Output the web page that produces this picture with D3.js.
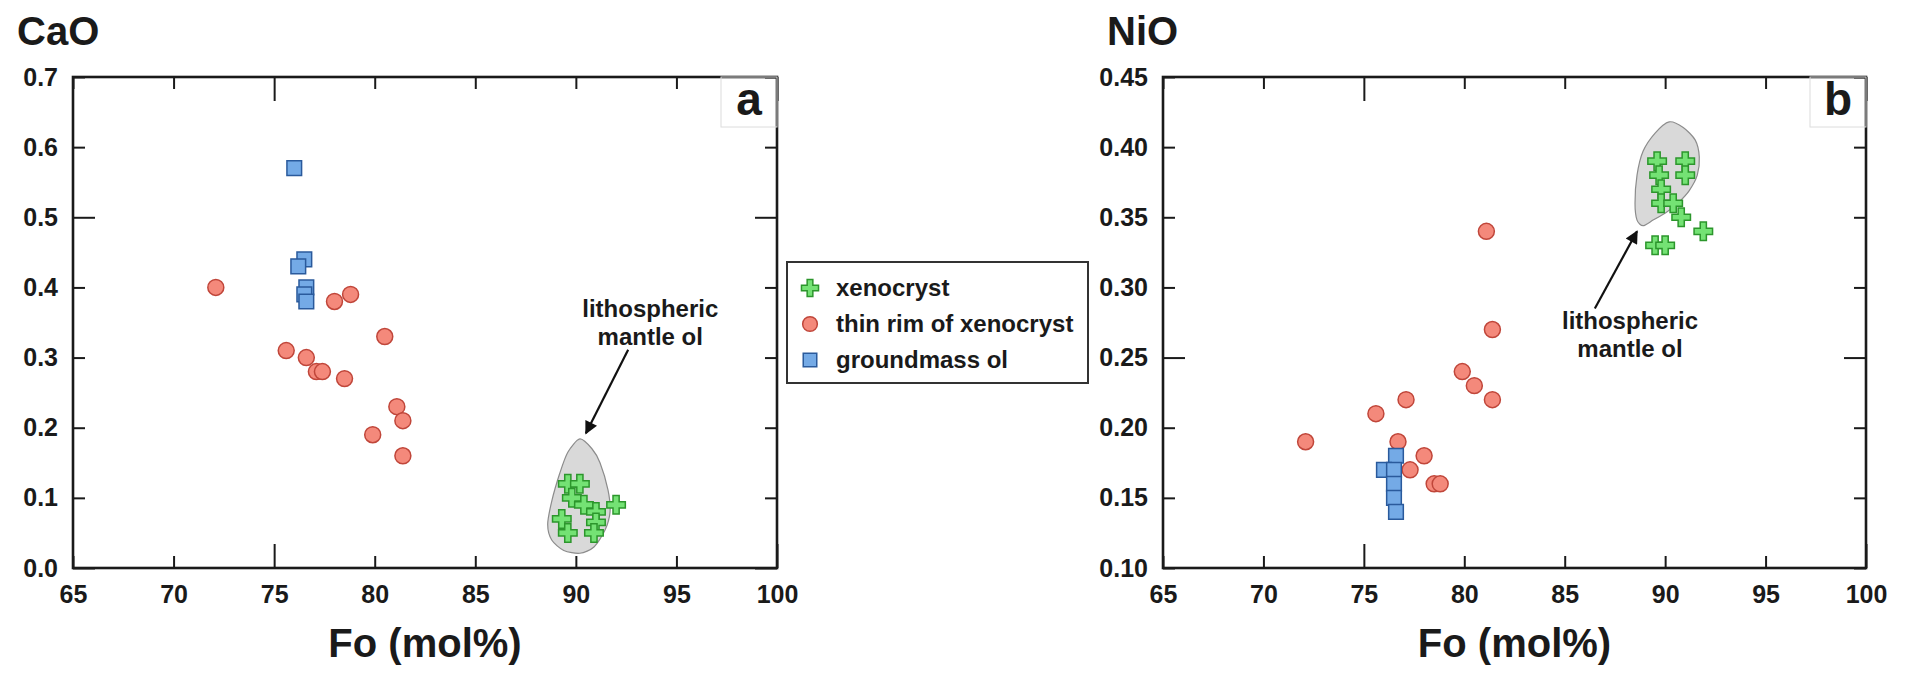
<!DOCTYPE html>
<html>
<head>
<meta charset="utf-8">
<script src="https://cdn.jsdelivr.net/npm/d3@7"></script>
<style>
body{margin:0;background:#fff;}
svg text{font-family:"Liberation Sans",Arial,Helvetica,sans-serif;font-weight:bold;fill:#1a1a1a;}
</style>
</head>
<body>
<div id="chart"></div>
<script>
// tick values
var foTicks = [65,70,75,80,85,90,95,100];
var caoTicks = [0.0,0.1,0.2,0.3,0.4,0.5,0.6,0.7];
var nioTicks = [0.10,0.15,0.20,0.25,0.30,0.35,0.40,0.45];

// legend
var seriesNames = ["xenocryst","thin rim of xenocryst","groundmass ol"];

// panel a: CaO vs Fo  ([Fo, CaO])
var xenoCaO = [[89.6,0.12],[90.2,0.12],[89.8,0.10],[90.4,0.09],[91.0,0.08],[89.3,0.07],[91.0,0.065],[89.6,0.05],[90.9,0.05],[92.0,0.09]];
var rimCaO = [[72.1,0.40],[78.0,0.38],[78.8,0.39],[80.5,0.33],[75.6,0.31],[76.6,0.30],[77.1,0.28],[77.4,0.28],[78.5,0.27],[81.1,0.23],[81.4,0.21],[79.9,0.19],[81.4,0.16]];
var gmCaO = [[76.0,0.57],[76.5,0.44],[76.2,0.43],[76.6,0.40],[76.5,0.39],[76.6,0.38]];
// lithospheric mantle ol field (outline)
var fieldCaO = [[90.2,0.184],[90.8,0.170],[91.2,0.150],[91.6,0.111],[91.7,0.080],[91.45,0.054],[90.9,0.030],[90.2,0.021],[89.4,0.025],[88.8,0.040],[88.6,0.062],[88.8,0.095],[89.2,0.135],[89.6,0.165]];

// panel b: NiO vs Fo  ([Fo, NiO])
var xenoNiO = [[89.6,0.39],[91.0,0.39],[89.7,0.38],[91.0,0.38],[89.8,0.37],[89.8,0.36],[90.4,0.36],[90.8,0.35],[91.9,0.34],[89.5,0.33],[90.0,0.33]];
var rimNiO = [[81.1,0.34],[81.4,0.27],[79.9,0.24],[80.5,0.23],[81.4,0.22],[77.1,0.22],[75.6,0.21],[72.1,0.19],[76.7,0.19],[78.0,0.18],[77.3,0.17],[78.5,0.16],[78.8,0.16]];
var gmNiO = [[76.6,0.18],[76.0,0.17],[76.5,0.17],[76.5,0.16],[76.5,0.15],[76.6,0.14]];
var fieldNiO = [[90.2,0.418],[90.9,0.414],[91.5,0.405],[91.7,0.393],[91.6,0.380],[91.2,0.369],[90.7,0.361],[90.1,0.354],[89.4,0.348],[88.9,0.344],[88.6,0.348],[88.5,0.360],[88.6,0.380],[88.9,0.397],[89.5,0.410]];

var W = 1912, H = 678;
var svg = d3.select("#chart").append("svg")
    .attr("width", W)
    .attr("height", H);

var defs = svg.append("defs");
defs.append("marker")
    .attr("id","arrowhead")
    .attr("viewBox","0 0 10 10")
    .attr("refX",9).attr("refY",5)
    .attr("markerWidth",18).attr("markerHeight",13)
    .attr("markerUnits","userSpaceOnUse")
    .attr("orient","auto")
    .append("path").attr("d","M0,0 L10,5 L0,10 z").attr("fill","#111");

// marker styles
var styles = [
    {type: d3.symbolCross, size: 190, fill: "#74e274", stroke: "#2c962c"},
    {type: d3.symbolCircle, size: 200, fill: "#f4897b", stroke: "#c0463a"},
    {type: d3.symbolSquare, size: 215, fill: "#74aae6", stroke: "#2a5a9c"}
];

function drawPanel(p){
    var x = d3.scaleLinear().domain([65,100]).range([p.left, p.right]);
    var y = d3.scaleLinear().domain(p.yDomain).range([p.bottom, p.top]);
    var g = svg.append("g");

    //shaded mantle field
    g.append("path")
        .datum(p.field)
        .attr("d", d3.line().x(function(d){return x(d[0]);}).y(function(d){return y(d[1]);}).curve(d3.curveCardinalClosed.tension(0.2)))
        .attr("fill","#d9d9d9")
        .attr("stroke","#8c8c8c")
        .attr("stroke-width",1.2);

    //axes with inward ticks, long ticks on the majors
    var bottom = g.append("g").attr("transform","translate(0,"+p.bottom+")")
        .call(d3.axisBottom(x).tickValues(foTicks).tickSizeOuter(0).tickSizeInner(-12).tickPadding(17));
    bottom.selectAll(".tick line").attr("y2", function(d){ return d % 25 === 0 ? -24 : -12; });
    var top = g.append("g").attr("transform","translate(0,"+p.top+")")
        .call(d3.axisTop(x).tickValues(foTicks).tickSizeOuter(0).tickSizeInner(-12).tickFormat(""));
    top.selectAll(".tick line").attr("y2", function(d){ return d % 25 === 0 ? 24 : 12; });

    var left = g.append("g").attr("transform","translate("+p.left+",0)")
        .call(d3.axisLeft(y).tickValues(p.yTicks).tickSizeOuter(0).tickSizeInner(-12).tickPadding(15).tickFormat(d3.format(p.fmt)));
    left.selectAll(".tick line").attr("x2", function(d){ return p.isMajor(d) ? 22 : 12; });
    var right = g.append("g").attr("transform","translate("+p.right+",0)")
        .call(d3.axisRight(y).tickValues(p.yTicks).tickSizeOuter(0).tickSizeInner(-12).tickFormat(""));
    right.selectAll(".tick line").attr("x2", function(d){ return p.isMajor(d) ? -22 : -12; });

    [bottom, top, left, right].forEach(function(a){
        a.select(".domain").remove();
        a.selectAll(".tick line").attr("stroke","#1a1a1a").attr("stroke-width",2);
        a.selectAll("text").attr("font-size",25).attr("font-family",null).attr("fill","#1a1a1a");
    });

    //frame
    g.append("rect")
        .attr("x",p.left).attr("y",p.top)
        .attr("width",p.right-p.left).attr("height",p.bottom-p.top)
        .attr("fill","none").attr("stroke","#1a1a1a").attr("stroke-width",2.6);

    //panel letter box
    g.append("rect")
        .attr("x",p.right-56).attr("y",p.top)
        .attr("width",56).attr("height",50)
        .attr("fill","none").attr("stroke","#dcdcdc").attr("stroke-width",1);
    g.append("text").attr("x",p.right-28).attr("y",p.top+38)
        .attr("text-anchor","middle").attr("font-size",46).text(p.letter);

    //data points
    [p.xeno, p.rim, p.gm].forEach(function(set, i){
        var s = styles[i];
        g.selectAll(null).data(set).enter().append("path")
            .attr("d", d3.symbol().type(s.type).size(s.size))
            .attr("transform", function(d){ return "translate("+x(d[0])+","+y(d[1])+")"; })
            .attr("fill", s.fill).attr("stroke", s.stroke).attr("stroke-width",1.5);
    });

    //annotation
    g.append("line")
        .attr("x1",x(p.arrow[0][0])).attr("y1",y(p.arrow[0][1]))
        .attr("x2",x(p.arrow[1][0])).attr("y2",y(p.arrow[1][1]))
        .attr("stroke","#111").attr("stroke-width",2.2)
        .attr("marker-end","url(#arrowhead)");
    var t = g.append("text").attr("text-anchor","middle").attr("font-size",24);
    t.append("tspan").attr("x",x(p.label[0])).attr("y",y(p.label[1])).text("lithospheric");
    t.append("tspan").attr("x",x(p.label[0])).attr("dy",28).text("mantle ol");

    //titles
    g.append("text").attr("x",p.left-56).attr("y",45).attr("font-size",40).text(p.title);
    g.append("text").attr("x",(p.left+p.right)/2).attr("y",657)
        .attr("text-anchor","middle").attr("font-size",40).text("Fo (mol%)");
}

drawPanel({
    left: 73, right: 777, top: 77, bottom: 568,
    yDomain: [0, 0.7], yTicks: caoTicks, fmt: ".1f",
    isMajor: function(d){ return Math.abs(d*10 % 5) < 1e-6; },
    letter: "a", title: "CaO",
    xeno: xenoCaO, rim: rimCaO, gm: gmCaO, field: fieldCaO,
    arrow: [[92.6,0.311],[90.5,0.192]], label: [93.7,0.358]
});
drawPanel({
    left: 1163, right: 1866, top: 77, bottom: 568,
    yDomain: [0.10, 0.45], yTicks: nioTicks, fmt: ".2f",
    isMajor: function(d){ return Math.abs(d - 0.25) < 1e-6; },
    letter: "b", title: "NiO",
    xeno: xenoNiO, rim: rimNiO, gm: gmNiO, field: fieldNiO,
    arrow: [[86.5,0.285],[88.6,0.340]], label: [88.25,0.2707]
});

//legend
var leg = svg.append("g");
leg.append("rect").attr("x",787).attr("y",262).attr("width",301).attr("height",121)
    .attr("fill","#fff").attr("stroke","#333").attr("stroke-width",2);
seriesNames.forEach(function(name, i){
    var s = styles[i];
    var cy = 288 + i*36;
    leg.append("path")
        .attr("d", d3.symbol().type(s.type).size(s.size*0.85))
        .attr("transform","translate(810,"+cy+")")
        .attr("fill", s.fill).attr("stroke", s.stroke).attr("stroke-width",1.5);
    leg.append("text").attr("x",836).attr("y",cy+8).attr("font-size",24).text(name);
});
</script>
</body>
</html>
